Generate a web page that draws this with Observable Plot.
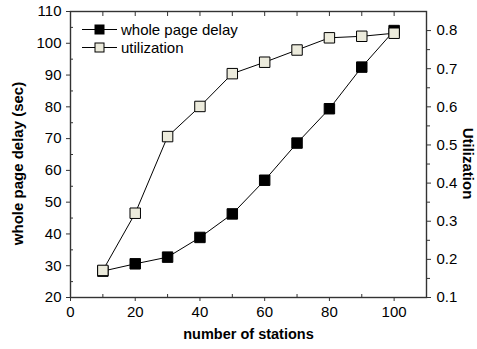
<!DOCTYPE html>
<html><head><meta charset="utf-8">
<script src="https://cdn.jsdelivr.net/npm/d3@7"></script>
<script src="https://cdn.jsdelivr.net/npm/@observablehq/plot@0.6"></script>
<style>body{margin:0;background:#fff}</style>
</head><body><div id="chart"></div>
<script>
const stations = [10, 20, 30, 40, 50, 60, 70, 80, 90, 100];
const delay = [28.3, 30.6, 32.7, 38.9, 46.3, 56.9, 68.6, 79.4, 92.5, 104.0];
const utilization = [0.171, 0.321, 0.522, 0.601, 0.687, 0.717, 0.749, 0.781, 0.785, 0.793];
const xTicks = [0, 20, 40, 60, 80, 100];
const xMinor = [10, 30, 50, 70, 90, 110];
const xTop = [0, 10, 20, 30, 40, 50, 60, 70, 80, 90, 100, 110];
const delayTicks = [20, 30, 40, 50, 60, 70, 80, 90, 100, 110];
const delayMinor = [25, 35, 45, 55, 65, 75, 85, 95, 105];
const utilTicks = [0.1, 0.2, 0.3, 0.4, 0.5, 0.6, 0.7, 0.8];
const utilMinor = [0.15, 0.25, 0.35, 0.45, 0.55, 0.65, 0.75];
const seriesNames = ["whole page delay", "utilization"];
const seriesFill = ["#000000", "#ecebdc"];

// right axis (utilization 0.1..0.85) mapped onto the left scale (20..110)
const toLeft = u => 20 + (u - 0.1) * 120;
const fromLeft = v => (v - 20) / 120 + 0.1;

const rows = stations.map((s, i) => ({s, delay: delay[i], util: toLeft(utilization[i])}));
const axisColor = "#333";

const plot = Plot.plot({
  width: 477, height: 349,
  marginLeft: 70, marginRight: 51, marginTop: 11, marginBottom: 52,
  style: {fontFamily: "'Liberation Sans', Arial, sans-serif", fontSize: "15px", color: "#000", background: "#fff"},
  x: {domain: [0, 110]},
  y: {domain: [20, 110]},
  marks: [
    Plot.axisX(xTicks, {anchor: "bottom", tickSize: 4, tickPadding: 5, label: null, stroke: axisColor, fill: "#000"}),
    Plot.axisX(xMinor, {anchor: "bottom", tickSize: -3, text: null, label: null, stroke: axisColor}),
    Plot.axisX(xTop, {anchor: "top", tickSize: -4, text: null, label: null, stroke: axisColor}),
    Plot.axisY(delayTicks, {anchor: "left", tickSize: 4, tickPadding: 5, label: null, stroke: axisColor, fill: "#000"}),
    Plot.axisY(delayMinor, {anchor: "left", tickSize: -3, text: null, label: null, stroke: axisColor}),
    Plot.axisY(utilTicks.map(toLeft), {anchor: "right", tickSize: 4, tickPadding: 6, label: null, stroke: axisColor, fill: "#000",
      tickFormat: v => d3.format(".1f")(fromLeft(v))}),
    Plot.axisY(utilMinor.map(toLeft), {anchor: "right", tickSize: 3, text: null, label: null, stroke: axisColor}),
    Plot.frame({stroke: axisColor, strokeWidth: 1.4}),
    Plot.line(rows, {x: "s", y: "delay", stroke: "#000", strokeWidth: 1}),
    Plot.dot(rows, {x: "s", y: "delay", symbol: "square", r: 5.9, fill: seriesFill[0], stroke: "#000", strokeWidth: 1}),
    Plot.line(rows, {x: "s", y: "util", stroke: "#000", strokeWidth: 1}),
    Plot.dot(rows, {x: "s", y: "util", symbol: "square", r: 5.9, fill: seriesFill[1], stroke: "#000", strokeWidth: 1}),
    Plot.text(["number of stations"], {text: d => d, frameAnchor: "bottom", textAnchor: "middle", dy: 41, fontWeight: "bold", fontSize: 14.5, fill: "#000"}),
    Plot.text(["whole page delay (sec)"], {text: d => d, frameAnchor: "left", textAnchor: "middle", rotate: -90, dx: -52, dy: 9, fontWeight: "bold", fontSize: 15, fill: "#000"}),
    Plot.text(["Utilization"], {text: d => d, frameAnchor: "right", textAnchor: "middle", rotate: 90, dx: 41, dy: 9, fontWeight: "bold", fontSize: 15, fill: "#000"})
  ]
});

// legend
const svg = d3.select(plot);
const lg = svg.append("g").attr("font-family", "'Liberation Sans', Arial, sans-serif").attr("font-size", 15).attr("text-anchor", "start");
seriesNames.forEach((name, i) => {
  const cy = 29.5 + i * 18;
  lg.append("line").attr("x1", 82).attr("x2", 117).attr("y1", cy).attr("y2", cy).attr("stroke", "#000").attr("stroke-width", 1);
  lg.append("rect").attr("x", 95).attr("y", cy - 4.5).attr("width", 9).attr("height", 9)
    .attr("fill", seriesFill[i]).attr("stroke", "#000").attr("stroke-width", 1);
  lg.append("text").attr("x", 121).attr("y", cy).attr("dy", "0.36em").attr("fill", "#000").attr("text-anchor", "start").text(name);
});

document.getElementById("chart").appendChild(plot);
</script>
</body></html>
